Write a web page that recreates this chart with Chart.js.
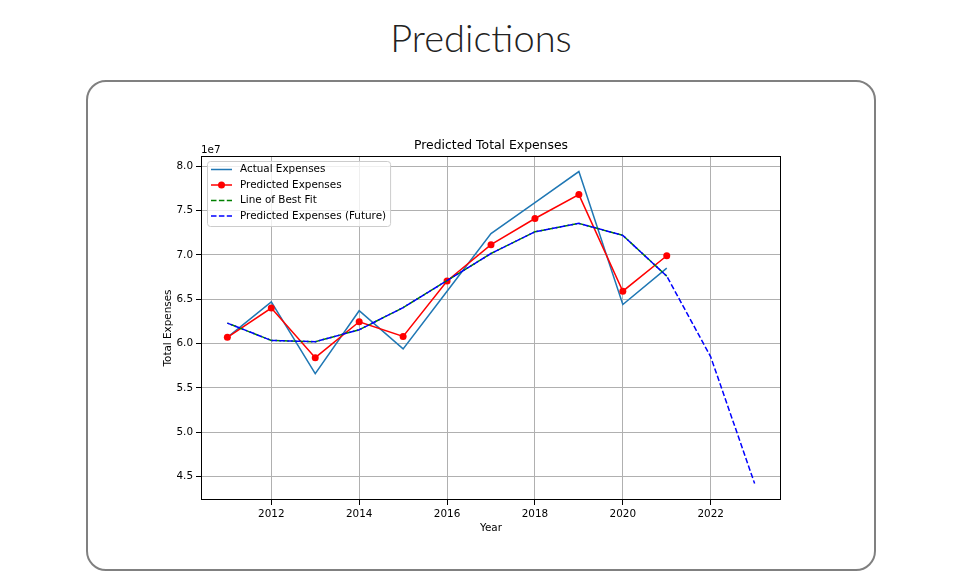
<!DOCTYPE html>
<html lang="en">
<head>
<meta charset="UTF-8">
<title>Predictions</title>
<script src="https://cdn.jsdelivr.net/npm/chart.js"></script>
<style>
    body {
        margin: 0;
        width: 980px;
        height: 584px;
        background: #fff;
        position: relative;
        overflow: hidden;
    }
    #title {
        position: absolute;
        left: 0;
        top: 14px;
        width: 962px;
        text-align: center;
        font-family: Lato, "Open Sans", sans-serif;
        font-weight: 300;
        font-size: 38px;
        color: #222;
    }
    .card {
        position: absolute;
        left: 86px;
        top: 80px;
        width: 790px;
        height: 491px;
        box-sizing: border-box;
        border: 2px solid #808080;
        border-radius: 20px;
    }
    #chartBox {
        position: absolute;
        left: 140px;
        top: 125px;
        width: 680px;
        height: 420px;
    }
</style>
</head>
<body>
<div id="title">Predictions</div>
<div class="card"></div>
<div id="chartBox"><canvas id="predChart" width="680" height="420"></canvas></div>

<script>
// values (total expenses per year)
const years = [2011, 2012, 2013, 2014, 2015, 2016, 2017, 2018, 2019, 2020, 2021];
const futureYears = [2011, 2012, 2013, 2014, 2015, 2016, 2017, 2018, 2019, 2020, 2021, 2022, 2023];

const actualExpenses = [6.07e7, 6.47e7, 5.66e7, 6.37e7, 5.94e7, 6.59e7, 7.24e7, 7.59e7, 7.94e7, 6.44e7, 6.85e7];
const predictedExpenses = [6.07e7, 6.40e7, 5.84e7, 6.245e7, 6.08e7, 6.705e7, 7.115e7, 7.41e7, 7.68e7, 6.59e7, 6.99e7];
const bestFit = [6.23e7, 6.035e7, 6.02e7, 6.155e7, 6.405e7, 6.71e7, 7.015e7, 7.26e7, 7.355e7, 7.22e7, 6.76e7];
const futureExpenses = [6.23e7, 6.035e7, 6.02e7, 6.155e7, 6.405e7, 6.71e7, 7.015e7, 7.26e7, 7.355e7, 7.22e7, 6.76e7, 5.85e7, 4.42e7];

const xTickValues = [2012, 2014, 2016, 2018, 2020, 2022];
const yTickValues = [4.5e7, 5.0e7, 5.5e7, 6.0e7, 6.5e7, 7.0e7, 7.5e7, 8.0e7];

const FONT = 'DejaVu Sans';
const SMALL = 10.4;
const dash = [5.5, 2.4];

function pts(xs, ys) {
    return xs.map((x, i) => ({ x: x, y: ys[i] }));
}

// title, offset text, axes frame and legend (matplotlib look)
const decor = {
    id: 'decor',
    afterDatasetsDraw(chart) {
        const ctx = chart.ctx;
        const a = chart.chartArea;
        ctx.save();

        ctx.strokeStyle = '#000';
        ctx.lineWidth = 1;
        ctx.strokeRect(a.left + 0.5, a.top + 0.5, a.right - a.left - 1, a.bottom - a.top - 1);

        ctx.fillStyle = '#000';
        ctx.font = '12.4px "' + FONT + '"';
        ctx.textAlign = 'center';
        ctx.textBaseline = 'alphabetic';
        ctx.fillText('Predicted Total Expenses', (a.left + a.right) / 2, a.top - 7);

        ctx.font = SMALL + 'px "' + FONT + '"';
        ctx.textAlign = 'left';
        ctx.fillText('1e7', a.left, a.top - 3);

        // legend
        const items = chart.data.datasets;
        let maxW = 0;
        items.forEach(d => { maxW = Math.max(maxW, ctx.measureText(d.label).width); });
        const bx = a.left + 6, by = a.top + 5;
        const bw = 33 + maxW + 4, bh = 65;
        ctx.beginPath();
        ctx.roundRect(bx + 0.5, by + 0.5, bw, bh, 3);
        ctx.fillStyle = 'rgba(255,255,255,0.8)';
        ctx.fill();
        ctx.strokeStyle = '#cccccc';
        ctx.stroke();

        items.forEach((d, i) => {
            const cy = by + 8.5 + i * 15.5;
            ctx.strokeStyle = d.borderColor;
            ctx.lineWidth = d.borderWidth;
            ctx.setLineDash(d.borderDash || []);
            ctx.beginPath();
            ctx.moveTo(bx + 4, cy);
            ctx.lineTo(bx + 25, cy);
            ctx.stroke();
            ctx.setLineDash([]);
            if (d.pointRadius > 0) {
                ctx.fillStyle = d.pointBackgroundColor;
                ctx.beginPath();
                ctx.arc(bx + 14.5, cy, d.pointRadius, 0, Math.PI * 2);
                ctx.fill();
            }
            ctx.fillStyle = '#000';
            ctx.textBaseline = 'middle';
            ctx.fillText(d.label, bx + 33, cy);
        });
        ctx.restore();
    }
};

new Chart(document.getElementById('predChart').getContext('2d'), {
    type: 'line',
    data: {
        datasets: [
            {
                label: 'Actual Expenses',
                data: pts(years, actualExpenses),
                borderColor: '#1f77b4',
                borderWidth: 1.5,
                pointRadius: 0,
                order: 4
            },
            {
                label: 'Predicted Expenses',
                data: pts(years, predictedExpenses),
                borderColor: '#ff0000',
                borderWidth: 1.5,
                pointRadius: 3.5,
                pointBackgroundColor: '#ff0000',
                pointBorderColor: '#ff0000',
                pointBorderWidth: 0,
                order: 3
            },
            {
                label: 'Line of Best Fit',
                data: pts(years, bestFit),
                borderColor: '#008000',
                borderWidth: 1.5,
                borderDash: dash,
                borderDashOffset: 4,
                pointRadius: 0,
                order: 2
            },
            {
                label: 'Predicted Expenses (Future)',
                data: pts(futureYears, futureExpenses),
                borderColor: '#0000ff',
                borderWidth: 1.5,
                borderDash: dash,
                pointRadius: 0,
                order: 1
            }
        ]
    },
    options: {
        responsive: false,
        animation: false,
        events: [],
        layout: { padding: { left: 0, top: 31, right: 39, bottom: 0 } },
        plugins: {
            legend: { display: false },
            tooltip: { enabled: false }
        },
        scales: {
            x: {
                type: 'linear',
                min: 2010.4,
                max: 2023.6,
                afterBuildTicks: s => { s.ticks = xTickValues.map(v => ({ value: v })); },
                afterFit: s => { s.height = 45; },
                border: { display: false },
                grid: { color: '#b0b0b0', lineWidth: 1, tickColor: '#000', tickLength: 5 },
                ticks: {
                    color: '#000',
                    padding: 3,
                    maxRotation: 0,
                    font: { family: FONT, size: SMALL },
                    callback: v => String(v)
                },
                title: {
                    display: true,
                    text: 'Year',
                    color: '#000',
                    font: { family: FONT, size: SMALL },
                    padding: { top: 0, bottom: 10 }
                }
            },
            y: {
                min: 4.235e7,
                max: 8.115e7,
                afterBuildTicks: s => { s.ticks = yTickValues.map(v => ({ value: v })); },
                afterFit: s => { s.width = 61; },
                border: { display: false },
                grid: { color: '#b0b0b0', lineWidth: 1, tickColor: '#000', tickLength: 5 },
                ticks: {
                    color: '#000',
                    padding: 3,
                    font: { family: FONT, size: SMALL },
                    callback: v => (v / 1e7).toFixed(1)
                },
                title: {
                    display: true,
                    text: 'Total Expenses',
                    color: '#000',
                    font: { family: FONT, size: SMALL },
                    padding: { top: 22, bottom: 0 }
                }
            }
        }
    },
    plugins: [decor]
});
</script>
</body>
</html>
